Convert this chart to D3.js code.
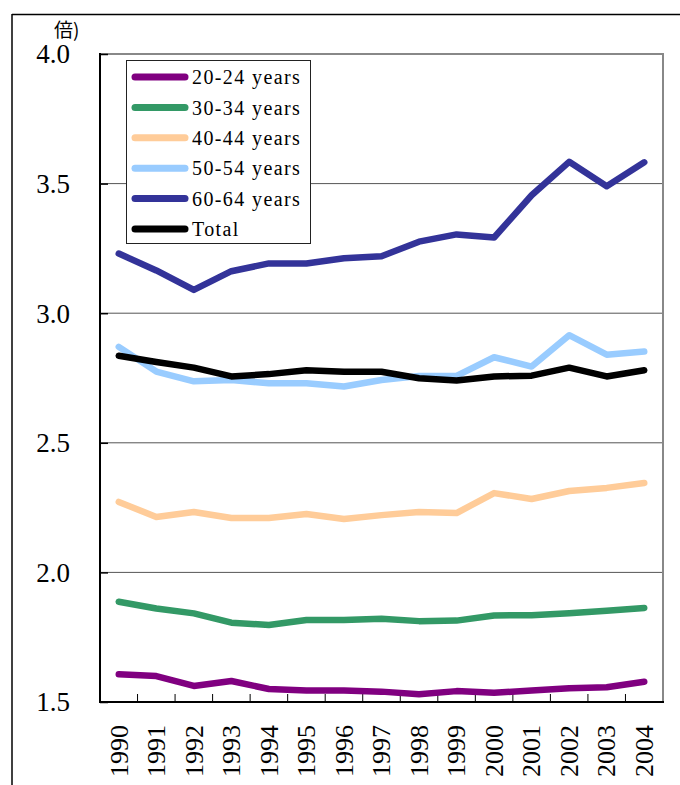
<!DOCTYPE html>
<html><head><meta charset="utf-8">
<script src="https://cdn.jsdelivr.net/npm/d3@7/dist/d3.min.js"></script>
<style>body{margin:0;background:#fff}svg{display:block}</style>
</head><body>
<script>
const years = ["1990","1991","1992","1993","1994","1995","1996","1997","1998","1999","2000","2001","2002","2003","2004"];
const seriesNames = ["20-24 years","30-34 years","40-44 years","50-54 years","60-64 years","Total"];
const seriesColors = ["#800080","#339966","#FFCC99","#99CCFF","#333399","#000000"];
const v2024 = [1.607,1.600,1.562,1.581,1.550,1.544,1.544,1.540,1.530,1.542,1.536,1.544,1.553,1.557,1.578];
const v3034 = [1.887,1.861,1.842,1.806,1.797,1.816,1.816,1.821,1.812,1.814,1.834,1.835,1.842,1.852,1.863];
const v4044 = [2.272,2.214,2.233,2.210,2.210,2.225,2.206,2.221,2.233,2.229,2.306,2.283,2.314,2.326,2.345];
const v5054 = [2.870,2.775,2.737,2.742,2.730,2.730,2.717,2.742,2.758,2.758,2.830,2.794,2.915,2.840,2.852];
const v6064 = [3.230,3.165,3.090,3.162,3.192,3.192,3.212,3.220,3.276,3.304,3.292,3.455,3.584,3.490,3.582];
const vTotal = [2.836,2.812,2.790,2.756,2.765,2.780,2.774,2.774,2.749,2.740,2.756,2.759,2.790,2.756,2.780];
const yTicks = [1.5,2.0,2.5,3.0,3.5,4.0];
const unitLabel = "倍)";

const seriesValues = [v2024,v3034,v4044,v5054,v6064,vTotal];
const W = 680, H = 785;
const L = 100, R = 663, T = 54, B = 702;
const serif = "'Liberation Serif', 'Times New Roman', serif";

const svg = d3.select("body").append("svg").attr("width",W).attr("height",H);

// outer frame
svg.append("line").attr("x1",12).attr("x2",W).attr("y1",14.5).attr("y2",14.5).attr("stroke","#000").attr("stroke-width",1.5);
svg.append("line").attr("x1",12).attr("x2",12).attr("y1",14).attr("y2",H).attr("stroke","#000").attr("stroke-width",1.5);

const x = d3.scaleBand().domain(years).range([L,R]);
const y = d3.scaleLinear().domain([1.5,4.0]).range([B,T]);

// gridlines
svg.append("g").selectAll("line").data(yTicks.filter(d=>d>1.5)).join("line")
  .attr("x1",L).attr("x2",R).attr("y1",d=>y(d)).attr("y2",d=>y(d))
  .attr("stroke","#555").attr("stroke-width",1);
// plot frame (top/right gray)
svg.append("path").attr("d",`M${L},${T}H${R}V${B}`).attr("fill","none").attr("stroke","#888").attr("stroke-width",2);

// y axis ticks (inward)
const yAxis = d3.axisRight(y).tickValues(yTicks).tickSize(8).tickFormat("");
const gy = svg.append("g").attr("transform",`translate(${L},0)`).call(yAxis);
gy.select(".domain").remove();
gy.selectAll(".tick line").attr("stroke","#000").attr("stroke-width",1.5);
svg.append("g").selectAll("text").data(yTicks).join("text")
  .attr("x",70).attr("y",d=>y(d)).attr("dy","0.35em").attr("text-anchor","end")
  .attr("font-family",serif).attr("font-size",27)
  .text(d=>d.toFixed(1));

// x ticks at band boundaries
const bounds = years.slice(1).map(d=>x(d));
svg.append("g").selectAll("line").data(bounds).join("line")
  .attr("x1",d=>d).attr("x2",d=>d).attr("y1",B-8).attr("y2",B)
  .attr("stroke","#000").attr("stroke-width",1);

// axes lines
svg.append("line").attr("x1",L).attr("x2",L).attr("y1",T-1).attr("y2",B+1).attr("stroke","#000").attr("stroke-width",2);
svg.append("line").attr("x1",L-1).attr("x2",R+1).attr("y1",B).attr("y2",B).attr("stroke","#000").attr("stroke-width",2);

// year labels
svg.append("g").selectAll("text").data(years).join("text")
  .attr("transform",d=>`translate(${x(d)+x.bandwidth()/2},725) rotate(-90)`)
  .attr("dy","0.35em").attr("text-anchor","end")
  .attr("font-family",serif).attr("font-size",25)
  .attr("textLength",52).attr("lengthAdjust","spacingAndGlyphs")
  .text(d=>d);

// unit label
svg.append("text").attr("x",54).attr("y",37).attr("font-family","'Noto Sans CJK JP', sans-serif").attr("font-size",19).text(unitLabel);

// lines
const line = d3.line().x((d,i)=>x(years[i])+x.bandwidth()/2).y(d=>y(d));
svg.append("g").selectAll("path").data(seriesValues).join("path")
  .attr("d",d=>line(d)).attr("fill","none")
  .attr("stroke",(d,i)=>seriesColors[i]).attr("stroke-width",6.5)
  .attr("stroke-linejoin","round").attr("stroke-linecap","round");

// legend
const lg = svg.append("g");
lg.append("rect").attr("x",126.5).attr("y",60.5).attr("width",184).attr("height",183)
  .attr("fill","#fff").attr("stroke","#222").attr("stroke-width",1);
const rowY = i => 77 + i*30.4;
lg.selectAll("line").data(seriesNames).join("line")
  .attr("x1",135).attr("x2",185).attr("y1",(d,i)=>rowY(i)).attr("y2",(d,i)=>rowY(i))
  .attr("stroke",(d,i)=>seriesColors[i]).attr("stroke-width",7).attr("stroke-linecap","round");
lg.selectAll("text").data(seriesNames).join("text")
  .attr("x",192).attr("y",(d,i)=>rowY(i)).attr("dy","0.36em")
  .attr("font-family",serif).attr("font-size",20).attr("letter-spacing",1.4)
  .text(d=>d);
</script>
</body></html>
